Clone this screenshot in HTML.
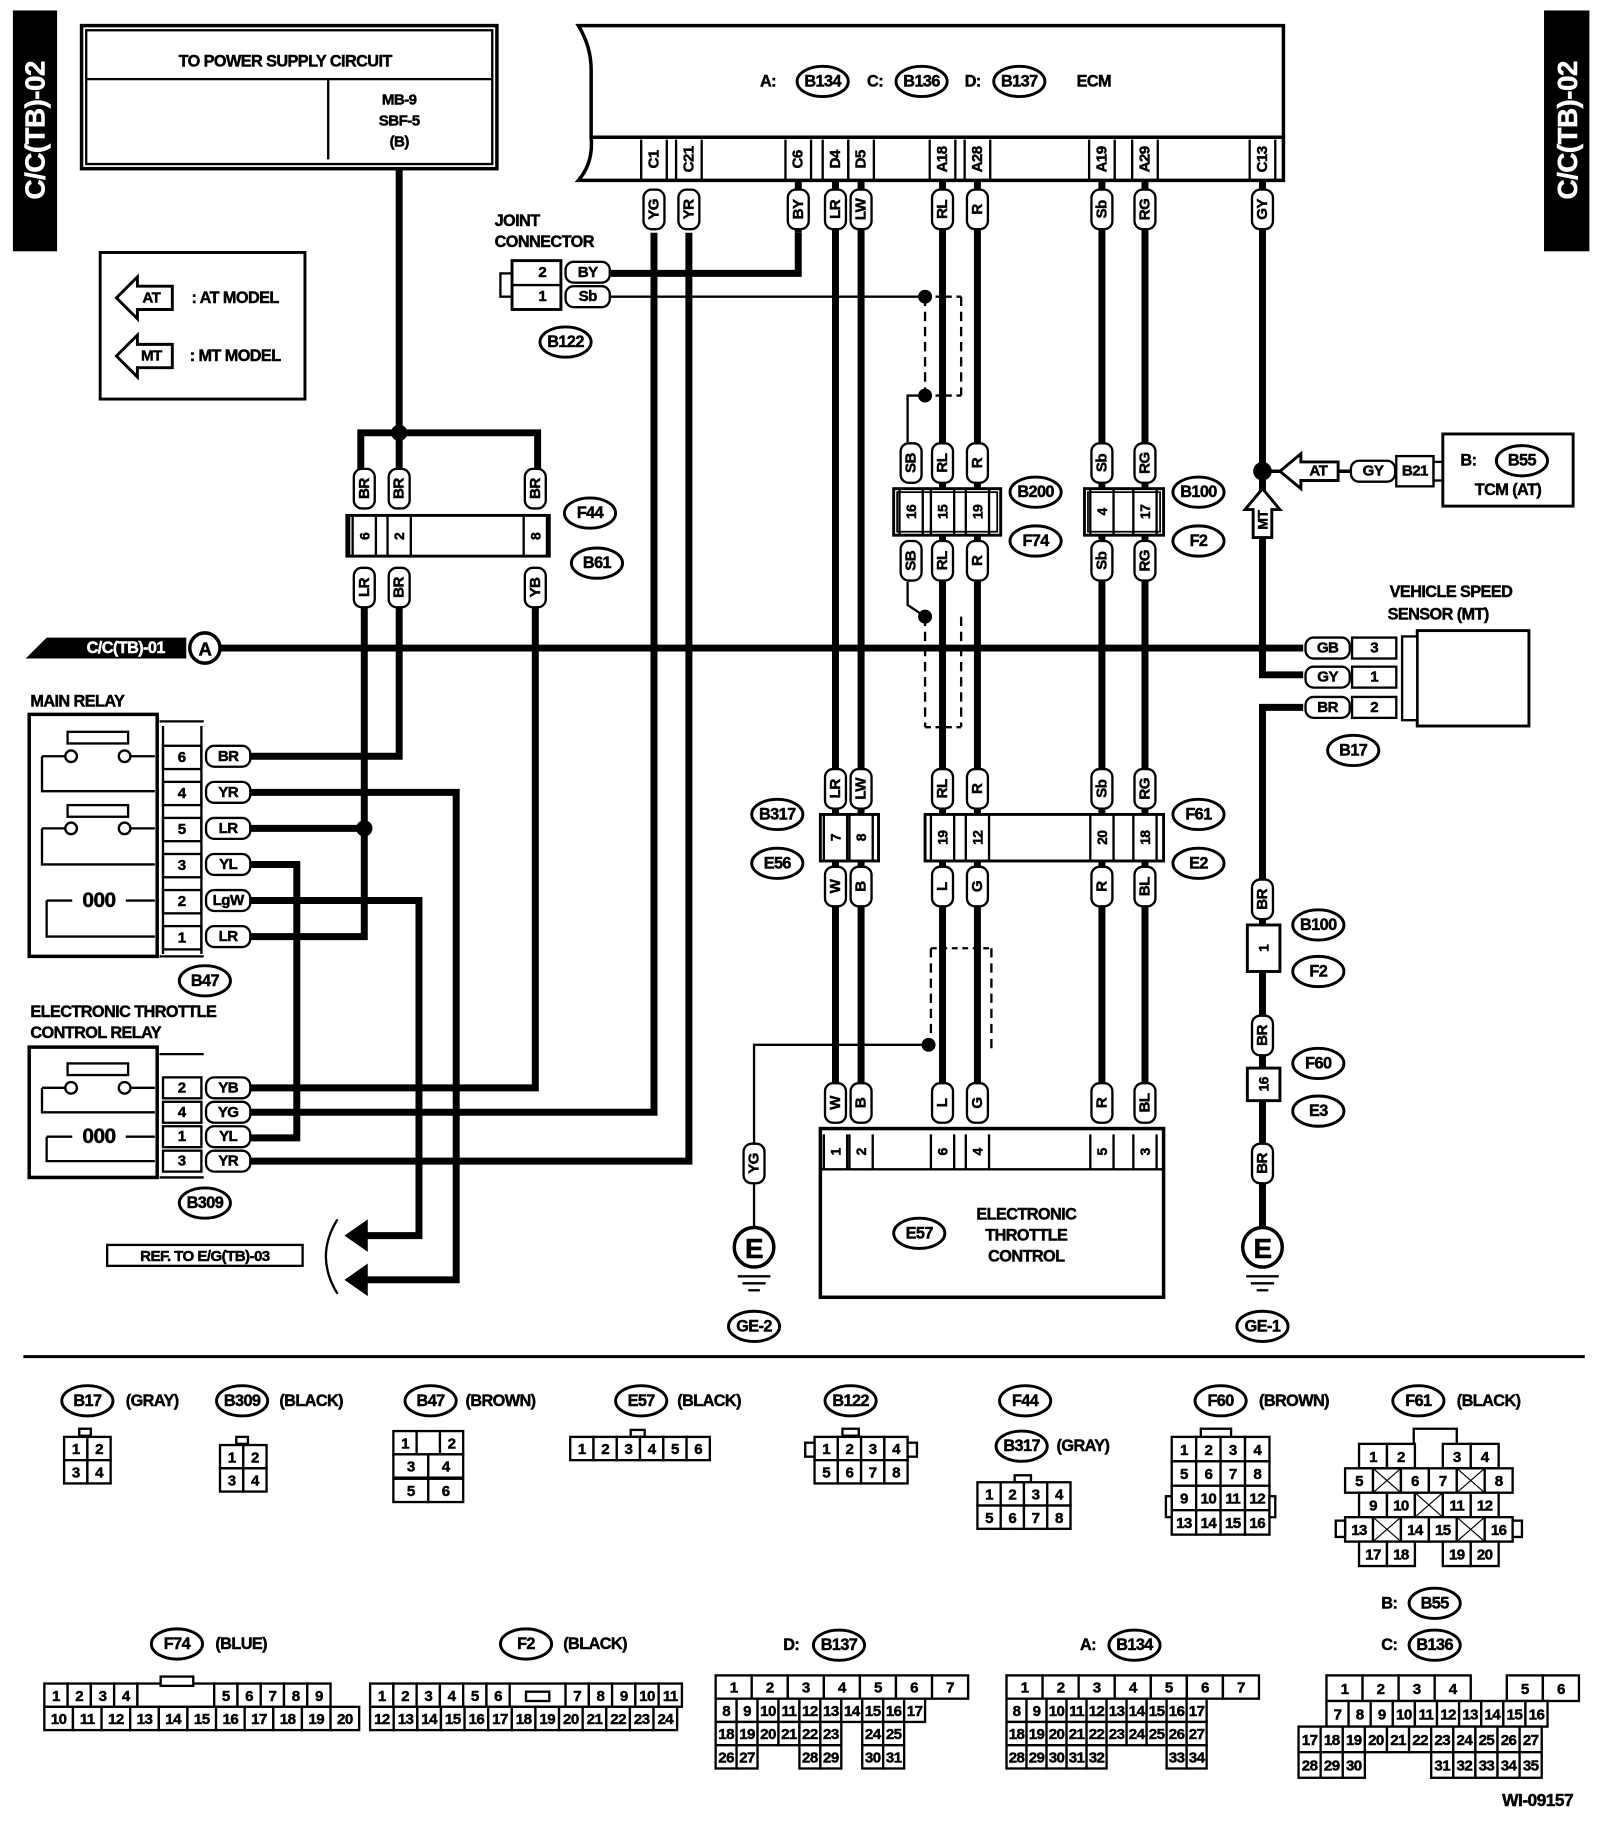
<!DOCTYPE html>
<html><head><meta charset="utf-8"><style>
html,body{margin:0;padding:0;background:#fff}
svg{display:block}
text{font-family:"Liberation Sans",sans-serif;font-weight:bold;fill:#000;stroke:#000;stroke-width:0.4}
</style></head><body>
<svg id="s" xmlns="http://www.w3.org/2000/svg" width="1600" height="1822" viewBox="0 0 1375 1566">
<rect width="1375" height="1566" fill="#fff"/>
<g id="g"></g>
</svg>
<script>
var o='';
function L(pts,w,dash){o+='<polyline points="'+pts+'" fill="none" stroke="#000" stroke-width="'+(w||6)+'"'+(dash?' stroke-dasharray="'+dash+'"':'')+'/>';}
function R(x,y,w,h,sw,fill){o+='<rect x="'+x+'" y="'+y+'" width="'+w+'" height="'+h+'" fill="'+(fill||'#fff')+'" stroke="#000" stroke-width="'+(sw||2)+'"/>';}
function T(x,y,t,fs,anchor,rot,fill){o+='<text x="'+x+'" y="'+y+'" font-size="'+(fs||14)+'" text-anchor="'+(anchor||'middle')+'"'+(rot?' transform="rotate(-90 '+x+' '+y+')"':'')+(fill?' style="fill:'+fill+';stroke:'+fill+'"':'')+' dominant-baseline="central" letter-spacing="-0.5">'+t+'</text>';}
function D(x,y,r){o+='<circle cx="'+x+'" cy="'+y+'" r="'+(r||6)+'" fill="#000"/>';}
function E(x,y,t,rx){rx=rx||22;o+='<ellipse cx="'+x+'" cy="'+y+'" rx="'+rx+'" ry="13" fill="#fff" stroke="#000" stroke-width="2.5"/>';T(x,y,t,14);}
function PV(x,y,t,h){h=h||34;o+='<rect x="'+(x-9)+'" y="'+(y-h/2)+'" width="18" height="'+h+'" rx="7" fill="#fff" stroke="#000" stroke-width="2"/>';T(x,y,t,13,'middle',1);}
function PH(x,y,t,w){w=w||38;o+='<rect x="'+(x-w/2)+'" y="'+(y-9)+'" width="'+w+'" height="18" rx="7" fill="#fff" stroke="#000" stroke-width="2"/>';T(x,y,t,13);}
function ROW(x,y,w,h,labels,fs){for(var i=0;i<labels.length;i++){var l=labels[i];var cx=x+i*w;if(l===null)continue;R(cx,y,w,h,2);if(l==='X'){L(cx+' '+y+','+(cx+w)+' '+(y+h),1);L((cx+w)+' '+y+','+cx+' '+(y+h),1);}else T(cx+w/2,y+h/2+1,l,fs||13);}}
function G(x,y){o+='<circle cx="'+x+'" cy="'+y+'" r="17" fill="#fff" stroke="#000" stroke-width="3"/>';T(x,y+1,'E',24);L((x-14)+' '+(y+25)+','+(x+14)+' '+(y+25),2);L((x-10)+' '+(y+31)+','+(x+10)+' '+(y+31),2);L((x-5)+' '+(y+37)+','+(x+5)+' '+(y+37),2);}

R(12,10,36,205,0,'#000');T(30,112,'C/C(TB)-02',24,'middle',1,'#fff');
R(1328,10,37,205,0,'#000');T(1347,112,'C/C(TB)-02',24,'middle',1,'#fff');

R(70,22,357,123,3);R(74,26,349,115,2);
L('74 68,423 68',2);L('282 68,282 137',2);
T(245,53,'TO POWER SUPPLY CIRCUIT',14);T(343,86,'MB-9',13);T(343,104,'SBF-5',13);T(343,122,'(B)',13);

o+='<path d="M497 22 L1103 22 L1103 155 L497 155 Q510 140 508 118 L508 60 Q508 40 497 22 Z" fill="#fff" stroke="#000" stroke-width="3"/>';
L('508 118,1103 118',3);
T(660,70,'A:',14);E(707,70,'B134');T(752,70,'C:',14);E(792,70,'B136');T(836,70,'D:',14);E(876,70,'B137');T(940,70,'ECM',14);
var pins=[[562,'C1'],[592,'C21'],[686,'C6'],[718,'D4'],[740,'D5'],[810,'A18'],[840,'A28'],[947,'A19'],[984,'A29'],[1085,'C13']];
pins.forEach(function(p){L(p[0]-11+' 120,'+(p[0]-11)+' 155',2);L(p[0]+11+' 120,'+(p[0]+11)+' 155',2);T(p[0],137,p[1],13,'middle',1);});

R(86,217,176,126,2.5);
o+='<path d="M100 256 L118 238 L118 246 L148 246 L148 266 L118 266 L118 274 Z" fill="#fff" stroke="#000" stroke-width="2.5"/>';T(130,256,'AT',13);T(202,256,': AT MODEL',14);
o+='<path d="M100 306 L118 288 L118 296 L148 296 L148 316 L118 316 L118 324 Z" fill="#fff" stroke="#000" stroke-width="2.5"/>';T(130,306,'MT',13);T(202,306,': MT MODEL',14);

L('343 145,343 372');L('310 420,310 372,462 372,462 420');L('343 372,343 420');D(343,372,7);
R(298,443,174,35,2.5);L('304 478,466 478',2);
L('300 443,300 478',2);
[[313,'6'],[343,'2'],[460,'8']].forEach(function(p){L(p[0]-10+' 443,'+(p[0]-10)+' 478',2);L(p[0]+10+' 443,'+(p[0]+10)+' 478',2);T(p[0],461,p[1],12,'middle',1);});
E(507,441,'F44');E(513,484,'B61');
L('313 520,313 805,215 805');L('343 520,343 650,215 650');L('460 520,460 935,215 935');
L('215 712,313 712');D(313,712,7);
L('215 681,392 681,392 1100,315 1100');
L('215 774,360 774,360 1062,315 1062');
L('215 743,255 743,255 978,215 978');
L('215 956,562 956,562 200');L('215 998,592 998,592 200');
PV(313,420,'BR');PV(343,420,'BR');PV(460,420,'BR');
PV(313,505,'LR');PV(343,505,'BR');PV(460,505,'YB');
o+='<path d="M296 1062 L316 1048 L316 1076 Z M296 1100 L316 1086 L316 1114 Z" fill="#000"/>';
o+='<path d="M290 1048 Q270 1080 290 1112" fill="none" stroke="#000" stroke-width="2"/>';
R(92,1070,168,18,2);T(176,1080,'REF. TO E/G(TB)-03',13);

o+='<path d="M22 566 L40 548 L160 548 L160 566 Z" fill="#000"/>';T(108,557,'C/C(TB)-01',14,'middle',0,'#fff');
o+='<circle cx="176" cy="557" r="13" fill="#fff" stroke="#000" stroke-width="3"/>';T(176,558,'A',16);
L('189 557,1120 557');

T(26,603,'MAIN RELAY',14,'start');
R(25,614,110,208,3);L('137 620,175 620',2);L('137 822,175 822',2);
[[650,'6','BR'],[681,'4','YR'],[712,'5','LR'],[743,'3','YL'],[774,'2','LgW'],[805,'1','LR']].forEach(function(p){R(140,p[0]-9,33,20,2);T(156,p[0]+1,p[1],13);PH(196,p[0],p[2]);});
L('140 624,140 820',2);L('173 624,173 820',2);
R(58,629,52,10,2);L('36 650,36 680,133 680',2);L('36 650,56 650',2);L('112 650,133 650',2);o+='<circle cx="61" cy="650" r="5" fill="#fff" stroke="#000" stroke-width="2"/><circle cx="107" cy="650" r="5" fill="#fff" stroke="#000" stroke-width="2"/>';
R(58,692,52,10,2);L('36 712,36 743,133 743',2);L('36 712,56 712',2);L('112 712,133 712',2);o+='<circle cx="61" cy="712" r="5" fill="#fff" stroke="#000" stroke-width="2"/><circle cx="107" cy="712" r="5" fill="#fff" stroke="#000" stroke-width="2"/>';
L('40 774,40 805,133 805',2);L('40 774,62 774',2);L('108 774,133 774',2);T(85,774,'000',18);
E(176,843,'B47');

T(26,870,'ELECTRONIC THROTTLE',14,'start');T(26,888,'CONTROL RELAY',14,'start');
R(25,900,110,112,3);L('137 906,175 906',2);L('137 1012,175 1012',2);
[[935,'2','YB'],[956,'4','YG'],[977,'1','YL'],[998,'3','YR']].forEach(function(p){R(140,p[0]-9,33,18,2);T(156,p[0],p[1],13);PH(196,p[0],p[2]);});
R(58,914,52,10,2);L('36 935,36 956,133 956',2);L('36 935,56 935',2);L('112 935,133 935',2);o+='<circle cx="61" cy="935" r="5" fill="#fff" stroke="#000" stroke-width="2"/><circle cx="107" cy="935" r="5" fill="#fff" stroke="#000" stroke-width="2"/>';
L('40 977,40 998,133 998',2);L('40 977,62 977',2);L('108 977,133 977',2);T(85,977,'000',18);
E(176,1034,'B309');

T(425,190,'JOINT',14,'start');T(425,208,'CONNECTOR',14,'start');
R(430,235,10,20,2);R(440,224,42,42,2.5);L('440 245,482 245',2);T(466,234,'2',13);T(466,255,'1',13);
L('525 235,686 235,686 200');L('525 255,795 255',2);D(795,255,6);
PH(505,234,'BY');PH(505,255,'Sb');E(486,294,'B122');

L('686 155,686 200');
[718,740].forEach(function(x){L(x+' 155,'+x+' 948');});
L('810 155,810 948');L('840 155,840 948');
L('947 155,947 948');L('984 155,984 948');
L('1085 155,1085 405');
pins.forEach(function(p){var lab={'C1':'YG','C21':'YR','C6':'BY','D4':'LR','D5':'LW','A18':'RL','A28':'R','A19':'Sb','A29':'RG','C13':'GY'}[p[1]];PV(p[0],180,lab);});

L('795 255,795 340',2,'8 5');L('826 255,826 340',2,'8 5');L('795 340,826 340',2,'5 4');L('795 255,826 255',2,'5 4');
D(795,340,6);L('795 340,780 340,780 380',2);L('780 500,780 520,795 530',2);
L('795 530,795 625',2,'8 5');L('826 530,826 625',2,'8 5');L('795 625,826 625',2,'5 4');D(795,530,6);

R(768,420,92,40,2.5);R(771,423,86,34,1.5,'none');
[[783,'16'],[810,'15'],[840,'19']].forEach(function(p){L(p[0]-10+' 420,'+(p[0]-10)+' 460',2);L(p[0]+10+' 420,'+(p[0]+10)+' 460',2);T(p[0],440,p[1],12,'middle',1);});
PV(783,398,'SB');PV(810,398,'RL');PV(840,398,'R');PV(783,482,'SB');PV(810,482,'RL');PV(840,482,'R');
E(890,423,'B200');E(890,465,'F74');
R(932,420,68,40,2.5);R(935,423,62,34,1.5,'none');
[[947,'4'],[984,'17']].forEach(function(p){L(p[0]-10+' 420,'+(p[0]-10)+' 460',2);L(p[0]+10+' 420,'+(p[0]+10)+' 460',2);T(p[0],440,p[1],12,'middle',1);});
PV(947,398,'Sb');PV(984,398,'RG');PV(947,482,'Sb');PV(984,482,'RG');
E(1030,423,'B100');E(1030,465,'F2');

R(795,700,205,40,2.5);
[[810,'19'],[840,'12'],[947,'20'],[984,'18']].forEach(function(p){L(p[0]-10+' 700,'+(p[0]-10)+' 740',2);L(p[0]+10+' 700,'+(p[0]+10)+' 740',2);T(p[0],720,p[1],12,'middle',1);});
PV(810,678,'RL');PV(840,678,'R');PV(947,678,'Sb');PV(984,678,'RG');
PV(810,762,'L');PV(840,762,'G');PV(947,762,'R');PV(984,762,'BL');
E(1030,700,'F61');E(1030,742,'E2');
R(705,700,50,40,2.5);
[[718,'7'],[740,'8']].forEach(function(p){L(p[0]-10+' 700,'+(p[0]-10)+' 740',2);L(p[0]+10+' 700,'+(p[0]+10)+' 740',2);T(p[0],720,p[1],12,'middle',1);});
PV(718,678,'LR');PV(740,678,'LW');PV(718,762,'W');PV(740,762,'B');
E(668,700,'B317');E(668,742,'E56');

L('800 815,800 905',2,'8 5');L('852 815,852 905',2,'8 5');L('800 815,852 815',2,'5 4');D(798,898,6);
L('798 898,648 898,648 985',2);PV(648,1000,'YG');L('648 1017,648 1055',2);G(648,1072);E(648,1140,'GE-2');

R(705,970,295,145,3);L('705 1005,1000 1005',2);
[[718,'W','1'],[740,'B','2'],[810,'L','6'],[840,'G','4'],[947,'R','5'],[984,'BL','3']].forEach(function(p){PV(p[0],948,p[1]);L(p[0]-10+' 975,'+(p[0]-10)+' 1005',2);L(p[0]+10+' 975,'+(p[0]+10)+' 1005',2);T(p[0],990,p[2],12,'middle',1);});
E(790,1060,'E57');T(882,1044,'ELECTRONIC',14);T(882,1062,'THROTTLE',14);T(882,1080,'CONTROL',14);

D(1085,405,8);L('1085 405,1085 580,1120 580');L('1085 405,1108 405',3);
o+='<path d="M1100 405 L1118 390 L1118 397 L1150 397 L1150 413 L1118 413 L1118 420 Z" fill="#fff" stroke="#000" stroke-width="2.5"/>';T(1133,405,'AT',13);
L('1150 405,1200 405',3);PH(1180,405,'GY');R(1200,392,32,26,2);T(1216,405,'B21',13);R(1232,397,8,16,2);
R(1240,373,112,62,2.5);T(1262,396,'B:',14);E(1308,396,'B55');T(1296,421,'TCM (AT)',14);
o+='<path d="M1085 420 L1100 438 L1093 438 L1093 462 L1077 462 L1077 438 L1070 438 Z" fill="#fff" stroke="#000" stroke-width="2.5"/>';T(1085,447,'MT',12,'middle',1);
T(1247,509,'VEHICLE SPEED',14);T(1236,528,'SENSOR (MT)',14);
R(1218,542,96,82,2.5);R(1205,547,13,72,2);
[[557,'3','GB'],[582,'1','GY'],[608,'2','BR']].forEach(function(p){R(1162,p[0]-9,38,18,2);T(1181,p[0],p[1],13);PH(1141,p[0],p[2]);});
L('1120 608,1085 608,1085 1055');
E(1163,645,'B17');
PV(1085,773,'BR');R(1072,795,28,40,2.5);T(1086,815,'1',12,'middle',1);E(1133,795,'B100');E(1133,835,'F2');
PV(1085,890,'BR');R(1072,918,28,28,2.5);T(1086,932,'16',12,'middle',1);E(1133,914,'F60');E(1133,955,'E3');
PV(1085,1000,'BR');G(1085,1072);E(1085,1140,'GE-1');

L('20 1166,1362 1166',2.5);

E(75,1204,'B17');T(108,1204,'(GRAY)',14,'start');
R(68,1228,10,6,2);ROW(55,1235,20,20,['1','2']);ROW(55,1255,20,20,['3','4']);
E(208,1204,'B309');T(240,1204,'(BLACK)',14,'start');
R(203,1235,10,6,2);ROW(189,1242,20,20,['1','2']);ROW(189,1262,20,20,['3','4']);
E(370,1204,'B47');T(400,1204,'(BROWN)',14,'start');
ROW(338,1230,20,20,['1',null,'2']);R(358,1230,20,20,2);ROW(338,1250,30,20,['3','4']);ROW(338,1271,30,20,['5','6']);
E(551,1204,'E57');T(582,1204,'(BLACK)',14,'start');
R(542,1229,12,6,2);ROW(490,1235,20,20,['1','2','3','4','5','6']);
E(731,1204,'B122');
R(724,1228,14,6,2);ROW(700,1235,20,20,['1','2','3','4']);ROW(700,1255,20,20,['5','6','7','8']);R(692,1240,8,12,2);R(780,1240,8,12,2);
E(881,1204,'F44');E(878,1243,'B317');T(908,1243,'(GRAY)',14,'start');
R(872,1268,14,6,2);ROW(840,1274,20,20,['1','2','3','4']);ROW(840,1294,20,20,['5','6','7','8']);
E(1049,1204,'F60');T(1082,1204,'(BROWN)',14,'start');
R(1032,1228,26,8,2);ROW(1007,1235,21,21,['1','2','3','4']);ROW(1007,1256,21,21,['5','6','7','8']);ROW(1007,1277,21,21,['9','10','11','12']);ROW(1007,1298,21,21,['13','14','15','16']);R(1002,1286,5,18,2);R(1091,1286,5,18,2);
E(1219,1204,'F61');T(1252,1204,'(BLACK)',14,'start');
L('1215 1242,1215 1228,1252 1228,1252 1242',2);
ROW(1168,1241,24,21,['1','2',null,'3','4']);ROW(1156,1262,24,21,['5','X','6','7','X','8']);ROW(1168,1283,24,21,['9','10','X','11','12']);ROW(1156,1304,24,21,['13','X','14','15','X','16']);ROW(1168,1325,24,21,['17','18',null,'19','20']);R(1148,1307,8,14,2);R(1300,1307,8,14,2);
E(152,1413,'F74');T(185,1413,'(BLUE)',14,'start');
ROW(38,1447,20,20,['1','2','3','4']);R(118,1447,66,20,2);R(138,1441,28,8,2);ROW(184,1447,20,20,['5','6','7','8','9']);
ROW(38,1467,24.6,20,['10','11','12','13','14','15','16','17','18','19','20']);
E(452,1413,'F2');T(484,1413,'(BLACK)',14,'start');
ROW(318,1447,20,20,['1','2','3','4','5','6']);R(438,1447,48,20,2);R(452,1454,20,8,2);ROW(486,1447,20,20,['7','8','9','10','11']);
ROW(318,1467,20.3,20,['12','13','14','15','16','17','18','19','20','21','22','23','24']);
T(680,1414,'D:',14);E(721,1414,'B137');
ROW(615,1440,31,20,['1','2','3','4','5','6','7']);
ROW(615,1460,18,20,['8','9','10','11','12','13','14','15','16','17']);
ROW(615,1480,18,20,['18','19','20','21','22','23',null,'24','25']);
ROW(615,1500,18,20,['26','27',null,null,'28','29',null,'30','31']);
T(935,1414,'A:',14);E(975,1414,'B134');
ROW(865,1440,31,20,['1','2','3','4','5','6','7']);
ROW(865,1460,17.2,20,['8','9','10','11','12','13','14','15','16','17']);
ROW(865,1480,17.2,20,['18','19','20','21','22','23','24','25','26','27']);
ROW(865,1500,17.2,20,['28','29','30','31','32',null,null,null,'33','34']);
T(1194,1378,'B:',14);E(1233,1378,'B55');T(1194,1414,'C:',14);E(1233,1414,'B136');
ROW(1140,1440,31,22,['1','2','3','4',null,'5','6']);
ROW(1140,1462,19,22,['7','8','9','10','11','12','13','14','15','16']);
ROW(1116,1484,19,22,['17','18','19','20','21','22','23','24','25','26','27']);
ROW(1116,1506,19,22,['28','29','30',null,null,null,'31','32','33','34','35']);
T(1352,1547,'WI-09157',15,'end');
document.getElementById('g').innerHTML=o;
</script>
</body></html>
